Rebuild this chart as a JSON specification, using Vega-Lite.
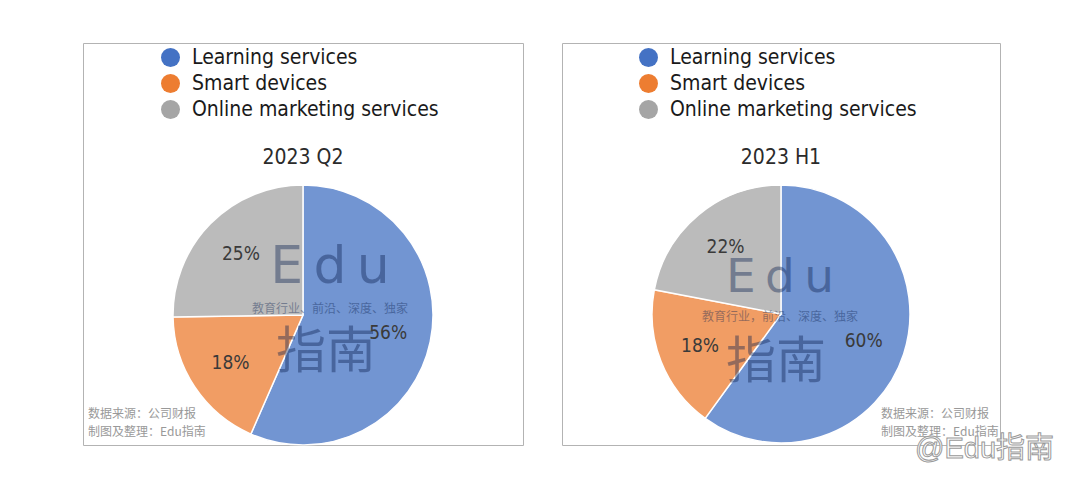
{
  "$schema": "https://vega.github.io/schema/vega-lite/v6.json",
  "background": "white",
  "padding": {"left": 82, "top": 42, "right": 0, "bottom": 0},
  "datasets": {
    "q2": [
      {"segment": "Learning services", "share": 0.56, "k": 1},
      {"segment": "Smart devices", "share": 0.18, "k": 2},
      {"segment": "Online marketing services", "share": 0.25, "k": 3}
    ],
    "h1": [
      {"segment": "Learning services", "share": 0.60, "k": 1},
      {"segment": "Smart devices", "share": 0.18, "k": 2},
      {"segment": "Online marketing services", "share": 0.22, "k": 3}
    ]
  },
  "spacing": 37,
  "hconcat": [
    {
      "width": 440,
      "height": 402,
      "view": {"stroke": "#b3b3b3", "strokeWidth": 1},
      "data": {"name": "q2"},
      "layer": [
        {
          "mark": {"type": "arc", "x": 220, "y": 272, "radius": 130, "opacity": 0.75, "stroke": "white", "strokeWidth": 1.5},
          "encoding": {
            "theta": {"field": "share", "type": "quantitative", "stack": true},
            "order": {"field": "k", "type": "quantitative"},
            "color": {
              "field": "segment",
              "type": "nominal",
              "scale": {
                "domain": ["Learning services", "Smart devices", "Online marketing services"],
                "range": ["#4472C4", "#ED7D31", "#A5A5A5"]
              },
              "legend": {
                "orient": "none", "legendX": 77, "legendY": 4, "title": null, "padding": 0,
                "symbolType": "circle", "symbolSize": 361, "symbolOpacity": 1, "symbolStrokeWidth": 0,
                "labelFont": "DejaVu Sans Condensed, Liberation Sans, sans-serif", "labelFontSize": 21,
                "labelColor": "#1a1a1a", "labelOffset": 11, "rowPadding": 4, "labelLimit": 400
              }
            }
          }
        },
        {
          "data": {"values": [{}]},
          "mark": {"type": "text", "text": "E\u2009d\u2009u", "x": 247, "y": 240, "align": "center", "baseline": "alphabetic", "font": "DejaVu Sans", "fontSize": 52, "color": "#0a1f50", "opacity": 0.4}
        },
        {
          "data": {"values": [{}]},
          "mark": {"type": "rule", "x": 194, "x2": 294, "y": 254, "y2": 254, "color": "#0a1f50", "opacity": 0.3, "strokeWidth": 1},
          "encoding": {}
        },
        {
          "data": {"values": [{}]},
          "mark": {"type": "rule", "x": 194, "x2": 294, "y": 277, "y2": 277, "color": "#0a1f50", "opacity": 0.3, "strokeWidth": 1},
          "encoding": {}
        },
        {
          "data": {"values": [{}]},
          "mark": {"type": "text", "text": "教育行业、前沿、深度、独家", "x": 247, "y": 270, "align": "center", "baseline": "alphabetic", "font": "Noto Sans CJK SC", "fontSize": 12, "color": "#0a1f50", "opacity": 0.4}
        },
        {
          "data": {"values": [{}]},
          "mark": {"type": "text", "text": "指南", "x": 243, "y": 325, "align": "center", "baseline": "alphabetic", "font": "Noto Sans CJK SC", "fontSize": 50, "color": "#0a1f50", "opacity": 0.4}
        },
        {
          "mark": {"type": "text", "x": 220, "y": 272, "radius": 87, "font": "DejaVu Sans Condensed, Liberation Sans, sans-serif", "fontSize": 19, "color": "#3a3a3a"},
          "encoding": {
            "theta": {"field": "share", "type": "quantitative", "stack": true},
            "order": {"field": "k", "type": "quantitative"},
            "text": {"field": "share", "type": "quantitative", "format": ".0%"}
          }
        },
        {
          "data": {"values": [{}]},
          "mark": {"type": "text", "text": "2023 Q2", "x": 220, "y": 121, "align": "center", "baseline": "alphabetic", "font": "DejaVu Sans Condensed, Liberation Sans, sans-serif", "fontSize": 21, "color": "#2b2b2b"}
        },
        {
          "data": {"values": [{}]},
          "mark": {"type": "text", "text": ["数据来源：公司财报", "制图及整理：Edu指南"], "x": 5, "y": 375, "align": "left", "baseline": "alphabetic", "lineHeight": 18, "font": "Noto Sans CJK SC", "fontSize": 12, "color": "#999999"}
        }
      ]
    },
    {
      "width": 438,
      "height": 402,
      "view": {"stroke": "#b3b3b3", "strokeWidth": 1},
      "data": {"name": "h1"},
      "layer": [
        {
          "mark": {"type": "arc", "x": 219, "y": 271, "radius": 129, "opacity": 0.75, "stroke": "white", "strokeWidth": 1.5},
          "encoding": {
            "theta": {"field": "share", "type": "quantitative", "stack": true},
            "order": {"field": "k", "type": "quantitative"},
            "color": {
              "field": "segment",
              "type": "nominal",
              "scale": {
                "domain": ["Learning services", "Smart devices", "Online marketing services"],
                "range": ["#4472C4", "#ED7D31", "#A5A5A5"]
              },
              "legend": {
                "orient": "none", "legendX": 76, "legendY": 4, "title": null, "padding": 0,
                "symbolType": "circle", "symbolSize": 361, "symbolOpacity": 1, "symbolStrokeWidth": 0,
                "labelFont": "DejaVu Sans Condensed, Liberation Sans, sans-serif", "labelFontSize": 21,
                "labelColor": "#1a1a1a", "labelOffset": 11, "rowPadding": 4, "labelLimit": 400
              }
            }
          }
        },
        {
          "data": {"values": [{}]},
          "mark": {"type": "text", "text": "E\u2009d\u2009u", "x": 218, "y": 249, "align": "center", "baseline": "alphabetic", "font": "DejaVu Sans", "fontSize": 47, "color": "#0a1f50", "opacity": 0.4}
        },
        {
          "data": {"values": [{}]},
          "mark": {"type": "rule", "x": 165, "x2": 263, "y": 264, "y2": 264, "color": "#0a1f50", "opacity": 0.3, "strokeWidth": 1},
          "encoding": {}
        },
        {
          "data": {"values": [{}]},
          "mark": {"type": "rule", "x": 165, "x2": 263, "y": 285, "y2": 285, "color": "#0a1f50", "opacity": 0.3, "strokeWidth": 1},
          "encoding": {}
        },
        {
          "data": {"values": [{}]},
          "mark": {"type": "text", "text": "教育行业，前沿、深度、独家", "x": 218, "y": 278, "align": "center", "baseline": "alphabetic", "font": "Noto Sans CJK SC", "fontSize": 12, "color": "#0a1f50", "opacity": 0.4}
        },
        {
          "data": {"values": [{}]},
          "mark": {"type": "text", "text": "指南", "x": 214, "y": 335, "align": "center", "baseline": "alphabetic", "font": "Noto Sans CJK SC", "fontSize": 50, "color": "#0a1f50", "opacity": 0.4}
        },
        {
          "mark": {"type": "text", "x": 219, "y": 271, "radius": 87, "font": "DejaVu Sans Condensed, Liberation Sans, sans-serif", "fontSize": 19, "color": "#3a3a3a"},
          "encoding": {
            "theta": {"field": "share", "type": "quantitative", "stack": true},
            "order": {"field": "k", "type": "quantitative"},
            "text": {"field": "share", "type": "quantitative", "format": ".0%"}
          }
        },
        {
          "data": {"values": [{}]},
          "mark": {"type": "text", "text": "2023 H1", "x": 219, "y": 121, "align": "center", "baseline": "alphabetic", "font": "DejaVu Sans Condensed, Liberation Sans, sans-serif", "fontSize": 21, "color": "#2b2b2b"}
        },
        {
          "data": {"values": [{}]},
          "mark": {"type": "text", "text": ["数据来源：公司财报", "制图及整理：Edu指南"], "x": 319, "y": 375, "align": "left", "baseline": "alphabetic", "lineHeight": 18, "font": "Noto Sans CJK SC", "fontSize": 12, "color": "#999999"}
        },
        {
          "data": {"values": [{}]},
          "mark": {"type": "text", "text": "@Edu指南", "x": 353, "y": 415, "align": "left", "baseline": "alphabetic", "font": "Liberation Sans, Noto Sans CJK SC", "fontSize": 29, "fill": "white", "stroke": "#9a9a9a", "strokeWidth": 1}
        }
      ]
    }
  ],
  "resolve": {"legend": {"color": "independent"}},
  "config": {
    "view": {"stroke": "#b3b3b3", "strokeWidth": 1}
  }
}
